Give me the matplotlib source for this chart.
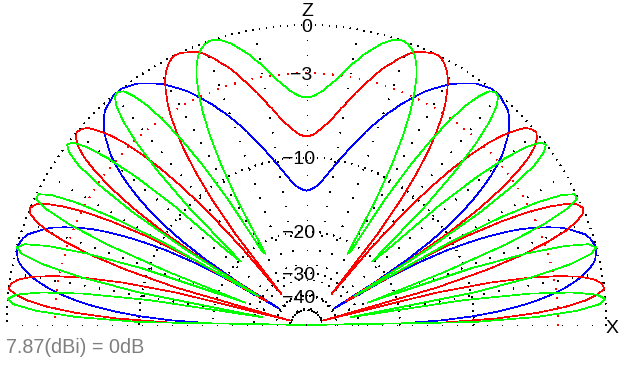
import numpy as np
import matplotlib.pyplot as plt

plt.rcParams['font.family'] = ['Liberation Sans', 'DejaVu Sans']
plt.rcParams['lines.scale_dashes'] = False

# elevation of each sample in degrees (pattern is the same on both sides of Z)
elevation = np.arange(0, 91)

# relative gain (dB), one value per degree of elevation
blue_db = [-99.0, -19.5, -13.5, -10.1, -7.7, -5.9, -4.5, -3.4, -2.5, -1.8,
           -1.2, -0.8, -0.4, -0.2, -0.1, 0.0, -0.1, -0.2, -0.4, -0.8,
           -1.2, -1.7, -2.4, -3.2, -4.1, -5.3, -6.8, -8.6, -10.9, -14.2,
           -19.7, -38.2, -22.2, -15.6, -11.9, -9.5, -7.6, -6.2, -5.0, -4.0,
           -3.2, -2.5, -2.0, -1.5, -1.1, -0.8, -0.5, -0.3, -0.2, -0.1,
           0.0, 0.0, 0.0, -0.1, -0.2, -0.3, -0.5, -0.7, -0.9, -1.1,
           -1.4, -1.7, -2.0, -2.3, -2.7, -3.1, -3.5, -3.9, -4.4, -4.8,
           -5.3, -5.8, -6.3, -6.8, -7.4, -7.9, -8.5, -9.0, -9.5, -10.1,
           -10.6, -11.1, -11.6, -12.1, -12.5, -12.9, -13.2, -13.4, -13.6, -13.7,
           -13.8]
red_db = [-99.0, -13.5, -7.7, -4.5, -2.5, -1.2, -0.4, 0.0, -0.1, -0.5,
          -1.3, -2.7, -4.8, -8.0, -14.0, -49.1, -13.7, -8.0, -4.8, -2.8,
          -1.4, -0.6, -0.1, 0.0, -0.2, -0.8, -1.8, -3.2, -5.3, -8.4,
          -13.8, -32.2, -16.1, -9.7, -6.2, -4.0, -2.4, -1.3, -0.6, -0.2,
          0.0, -0.1, -0.3, -0.9, -1.6, -2.6, -4.0, -5.8, -8.3, -12.0,
          -18.7, -34.5, -16.4, -11.2, -8.1, -5.9, -4.4, -3.2, -2.3, -1.6,
          -1.0, -0.6, -0.3, -0.1, 0.0, 0.0, -0.1, -0.2, -0.3, -0.5,
          -0.8, -1.1, -1.5, -1.8, -2.2, -2.7, -3.1, -3.6, -4.0, -4.5,
          -5.0, -5.4, -5.9, -6.3, -6.7, -7.0, -7.3, -7.6, -7.8, -7.9,
          -7.9]
green_db = [-99.0, -10.1, -4.5, -1.8, -0.4, 0.0, -0.5, -2.0, -4.9, -10.9,
            -32.6, -9.6, -4.4, -1.7, -0.4, 0.0, -0.4, -1.8, -4.4, -9.3,
            -26.2, -12.2, -5.7, -2.6, -0.9, -0.1, -0.1, -0.8, -2.4, -5.1,
            -10.3, -28.7, -12.7, -6.3, -3.2, -1.3, -0.4, 0.0, -0.2, -1.0,
            -2.5, -4.9, -8.9, -17.4, -20.4, -10.0, -5.7, -3.2, -1.6, -0.6,
            -0.1, 0.0, -0.2, -0.8, -1.7, -3.1, -5.0, -7.8, -12.1, -21.5,
            -22.2, -12.7, -8.5, -5.9, -4.1, -2.8, -1.8, -1.1, -0.6, -0.3,
            -0.1, 0.0, 0.0, -0.1, -0.3, -0.5, -0.8, -1.1, -1.4, -1.8,
            -2.1, -2.5, -2.9, -3.3, -3.6, -3.9, -4.2, -4.4, -4.6, -4.7,
            -4.7]

grid_db = [0, -10, -20, -30, -40, -50]
red_grid_db = -3
label_db = [0, -3, -10, -20, -30, -40]
label_txt = ['0', '\u22123', '\u221210', '\u221220', '\u221230', '\u221240']
spoke_deg = np.arange(0, 181, 10)
ref_text = '7.87(dBi) = 0dB'


# ARRL style log scale: radius = 0.89 ** (-dB / 2)
def fwd(db):
    return 0.89 ** (-np.asarray(db, dtype=float) / 2.0)


def inv(r):
    return -2.0 * np.log(np.clip(r, 1e-300, None)) / np.log(0.89)


W, H = 624, 372
fig = plt.figure(figsize=(W / 100, H / 100), dpi=100)
# polar wedge box is made square, half disc sits in its middle
ax = fig.add_axes([6.5 / W, -103 / H, 600 / W, 600 / H], projection='polar')
ax.set_thetamin(0)
ax.set_thetamax(180)
ax.set_rscale('function', functions=(fwd, inv))
ax.set_rlim(-200, 0)
ax.set_axis_off()

# dotted grid
arc = np.linspace(0, np.pi, 721)
for g in grid_db:
    ax.plot(arc, np.full_like(arc, g), color='black', lw=0.72,
            ls=(0, (0.72, 4.7)), antialiased=False, clip_on=False)
ax.plot(arc, np.full_like(arc, red_grid_db), color='red', lw=0.72,
        ls=(0, (0.72, 5.8)), antialiased=False, clip_on=False)
for d in spoke_deg:
    t = np.radians(d)
    ax.plot([t, t], [-200, 0], color='black', lw=0.72,
            ls=(0, (0.72, 10.1)), antialiased=False, clip_on=False)

# patterns, mirrored about the Z axis
phi = np.radians(np.concatenate([elevation, 180 - elevation[-2::-1]]))
for vals, col in [(blue_db, 'blue'), (red_db, 'red'), (green_db, 'lime')]:
    v = np.asarray(vals)
    full = np.concatenate([v, v[-2::-1]])
    ax.plot(phi, full, color=col, lw=0.5, antialiased=False, clip_on=False)

# level labels along Z (right edge just right of the axis)
for db, txt in zip(label_db, label_txt):
    dx = 5.5 if len(txt) <= 2 else 9.0
    ax.annotate(txt, xy=(np.pi / 2, db), xytext=(dx, -7),
                textcoords='offset pixels', ha='right', va='baseline',
                fontsize=14, annotation_clip=False)
ax.annotate('Z', xy=(np.pi / 2, 0), xytext=(0.5, 9), textcoords='offset pixels',
            ha='center', va='baseline', fontsize=14, annotation_clip=False)
ax.annotate('X', xy=(0, 0), xytext=(5.5, -8), textcoords='offset pixels',
            ha='center', va='baseline', fontsize=14, annotation_clip=False)

fig.text(6 / W, (H - 353) / H, ref_text, color='#7f7f7f', fontsize=14.2,
         ha='left', va='baseline')

fig.savefig('out.png', dpi=100, facecolor='white')
